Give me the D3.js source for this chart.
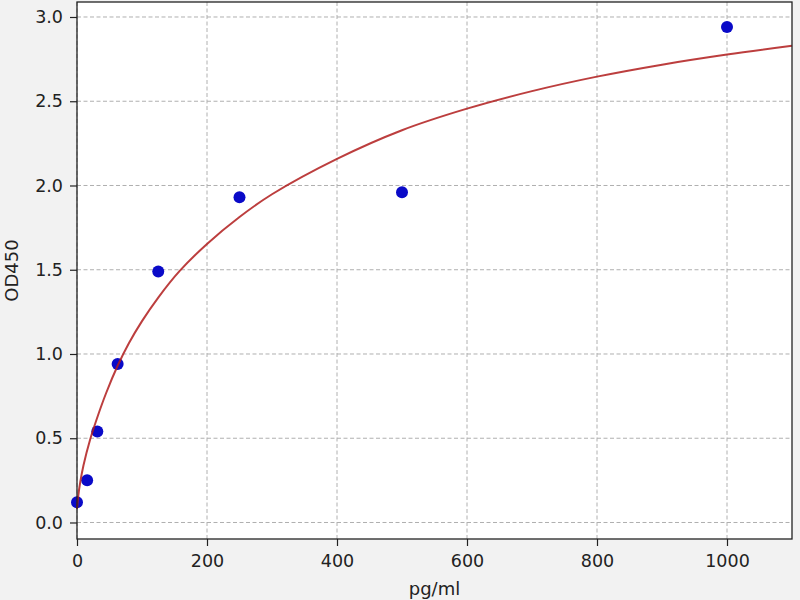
<!DOCTYPE html>
<html>
<head>
<meta charset="utf-8">
<script src="https://cdn.jsdelivr.net/npm/d3@7"></script>
<style>
  html, body { margin: 0; padding: 0; background: #f2f2f2; }
  svg { display: block; font-family: "DejaVu Sans", sans-serif; }
</style>
</head>
<body>
<svg id="chart" width="800" height="600"></svg>
<script>
// standard points
const concentrations = [0, 15.6, 31.25, 62.5, 125, 250, 500, 1000];
const odValues = [0.12, 0.25, 0.54, 0.94, 1.49, 1.93, 1.96, 2.94];

// fitted curve, read at several x positions
const curveX = [0, 2, 5, 10, 20, 30, 45, 62.5, 80, 100, 125, 158, 200, 250, 300, 400, 500, 600, 700, 800, 900, 1000, 1100];
const curveY = [0.08, 0.16, 0.24, 0.34, 0.49, 0.61, 0.77, 0.93, 1.065, 1.195, 1.335, 1.493, 1.653, 1.813, 1.948, 2.158, 2.328, 2.456, 2.56, 2.646, 2.717, 2.777, 2.829];

const xTicks = [0, 200, 400, 600, 800, 1000];
const yTicks = [0.0, 0.5, 1.0, 1.5, 2.0, 2.5, 3.0];

const margin = { top: 2, right: 8, bottom: 61, left: 77 };
const W = 800, H = 600;
const w = W - margin.left - margin.right;
const h = H - margin.top - margin.bottom;

const svg = d3.select('#chart');
const g = svg.append('g').attr('transform', `translate(${margin.left},${margin.top})`);

const x = d3.scaleLinear().domain([0, 1100]).range([0, w]);
const y = d3.scaleLinear().domain([-0.098, 3.089]).range([h, 0]);

g.append('rect').attr('width', w).attr('height', h).attr('fill', '#fff');

// grid
g.append('g').selectAll('line').data(xTicks).join('line')
  .attr('x1', d => x(d)).attr('x2', d => x(d))
  .attr('y1', 0).attr('y2', h)
  .attr('stroke', '#b0b0b0').attr('stroke-width', 1).attr('stroke-dasharray', '4,2.5');
g.append('g').selectAll('line').data(yTicks).join('line')
  .attr('x1', 0).attr('x2', w)
  .attr('y1', d => y(d)).attr('y2', d => y(d))
  .attr('stroke', '#b0b0b0').attr('stroke-width', 1).attr('stroke-dasharray', '4,2.5');

// points
g.append('g').selectAll('circle').data(concentrations).join('circle')
  .attr('cx', d => x(d))
  .attr('cy', (d, i) => y(odValues[i]))
  .attr('r', 6)
  .attr('fill', '#0a0ac8');

// curve
const line = d3.line()
  .x(d => x(d[0]))
  .y(d => y(d[1]))
  .curve(d3.curveCatmullRom.alpha(0.5));
g.append('path')
  .datum(curveX.map((v, i) => [v, curveY[i]]))
  .attr('d', line)
  .attr('fill', 'none')
  .attr('stroke', '#b01c1c')
  .attr('stroke-width', 2)
  .attr('stroke-opacity', 0.85);

// axes
const xAxis = g.append('g').attr('transform', `translate(0,${h})`)
  .call(d3.axisBottom(x).tickValues(xTicks).tickSize(7).tickPadding(9).tickFormat(d3.format('d')));
const yAxis = g.append('g')
  .call(d3.axisLeft(y).tickValues(yTicks).tickSize(7).tickPadding(7).tickFormat(d3.format('.1f')));
[xAxis, yAxis].forEach(a => {
  a.select('.domain').remove();
  a.selectAll('line').attr('stroke', '#222').attr('stroke-width', 1.2);
  a.selectAll('text').attr('font-size', '17.5px').attr('fill', '#222')
    .attr('font-family', '"DejaVu Sans", sans-serif');
});

// frame
g.append('rect').attr('width', w).attr('height', h)
  .attr('fill', 'none').attr('stroke', '#222').attr('stroke-width', 1.3);

// labels
svg.append('text')
  .attr('x', margin.left + w / 2).attr('y', 595)
  .attr('text-anchor', 'middle').attr('font-size', '18px').attr('fill', '#222')
  .text('pg/ml');
svg.append('text')
  .attr('transform', `translate(18,${margin.top + h / 2}) rotate(-90)`)
  .attr('text-anchor', 'middle').attr('font-size', '18px').attr('fill', '#222')
  .text('OD450');
</script>
</body>
</html>
